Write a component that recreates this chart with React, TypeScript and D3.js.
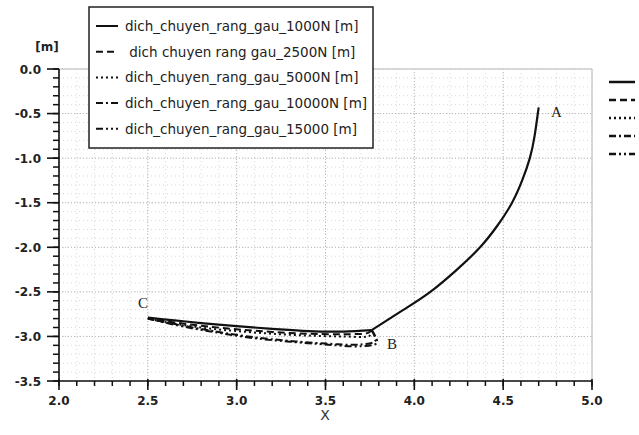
import React from "react";
import * as d3 from "d3";

// ---- data ----
const xTicks = [2.0, 2.5, 3.0, 3.5, 4.0, 4.5, 5.0];
const yTicks = [0.0, -0.5, -1.0, -1.5, -2.0, -2.5, -3.0, -3.5];

// shared path A -> B
const abX = [4.70, 4.695, 4.677, 4.65, 4.607, 4.55, 4.47, 4.37, 4.24, 4.09, 3.94, 3.76];
const abY = [-0.43, -0.5, -0.75, -1.0, -1.25, -1.5, -1.75, -2.0, -2.25, -2.5, -2.7, -2.93];

// path B -> C, per series
const bc1000X = [3.76, 3.6, 3.4, 3.2, 3.0, 2.8, 2.65, 2.5];
const bc1000Y = [-2.93, -2.945, -2.94, -2.915, -2.885, -2.85, -2.82, -2.79];
const bc2500X = [3.76, 3.74, 3.6, 3.4, 3.2, 3.0, 2.8, 2.6, 2.5];
const bc2500Y = [-2.93, -2.96, -2.975, -2.97, -2.95, -2.92, -2.88, -2.83, -2.80];
const bc5000X = [3.76, 3.75, 3.6, 3.4, 3.2, 3.0, 2.8, 2.6, 2.5];
const bc5000Y = [-2.93, -2.99, -3.0, -2.99, -2.97, -2.94, -2.90, -2.84, -2.80];
const bc10000X = [3.76, 3.78, 3.7, 3.5, 3.3, 3.1, 2.9, 2.7, 2.5];
const bc10000Y = [-2.93, -3.05, -3.09, -3.08, -3.05, -3.01, -2.95, -2.88, -2.80];
const bc15000X = [3.76, 3.79, 3.7, 3.5, 3.3, 3.1, 2.9, 2.7, 2.5];
const bc15000Y = [-2.93, -3.07, -3.11, -3.09, -3.06, -3.02, -2.96, -2.89, -2.80];

const seriesNames = [
  "dich_chuyen_rang_gau_1000N [m]",
  " dich chuyen rang gau_2500N [m]",
  "dich_chuyen_rang_gau_5000N [m]",
  "dich_chuyen_rang_gau_10000N [m]",
  "dich_chuyen_rang_gau_15000 [m]",
];
const seriesBCX = [bc1000X, bc2500X, bc5000X, bc10000X, bc15000X];
const seriesBCY = [bc1000Y, bc2500Y, bc5000Y, bc10000Y, bc15000Y];
const dashes = ["", "7,4", "2,3", "7,3,2,3", "7,3,2,3,2,3"];

const pointLabels = ["A", "B", "C"];

export default function App() {
  const left = 59, right = 592, top = 69, bottom = 381;
  const x = d3.scaleLinear().domain([2, 5]).range([left, right]);
  const y = d3.scaleLinear().domain([0, -3.5]).range([top, bottom]);

  const minorX = d3.range(20, 51).map((v) => v / 10);
  const minorY = d3.range(0, 36).map((v) => -v / 10);

  const line = d3
    .line<[number, number]>()
    .x((d) => x(d[0]))
    .y((d) => y(d[1]))
    .curve(d3.curveCatmullRom.alpha(0.5));

  const lineSmooth = d3
    .line<[number, number]>()
    .x((d) => x(d[0]))
    .y((d) => y(d[1]))
    .curve(d3.curveNatural);

  const abPts: [number, number][] = abX.map((v, i) => [v, abY[i]]);

  const tickFont = { fontFamily: "'DejaVu Sans', sans-serif", fontWeight: 700, fontSize: 12 } as const;

  return (
    <svg width={639} height={435} style={{ position: "absolute", left: 0, top: 0, background: "#fff" }}>
      {/* minor grid */}
      {minorX.map((v, i) => (
        <line key={"mgx" + i} x1={x(v)} x2={x(v)} y1={top} y2={bottom} stroke="#d8d8d8" strokeWidth={1} strokeDasharray="1,3" />
      ))}
      {minorY.map((v, i) => (
        <line key={"mgy" + i} x1={left} x2={right} y1={y(v)} y2={y(v)} stroke="#d8d8d8" strokeWidth={1} strokeDasharray="1,3" />
      ))}
      {/* major grid */}
      {xTicks.map((v, i) => (
        <line key={"gx" + i} x1={x(v)} x2={x(v)} y1={top} y2={bottom} stroke="#b8b8b8" strokeWidth={1} strokeDasharray="1,2" />
      ))}
      {yTicks.map((v, i) => (
        <line key={"gy" + i} x1={left} x2={right} y1={y(v)} y2={y(v)} stroke="#b8b8b8" strokeWidth={1} strokeDasharray="1,2" />
      ))}
      {/* frame */}
      <line x1={left} x2={right} y1={top} y2={top} stroke="#cfcfcf" strokeWidth={1.5} />
      <line x1={right} x2={right} y1={top} y2={bottom} stroke="#cfcfcf" strokeWidth={1.5} />

      {/* series: B -> C parts */}
      {seriesNames.map((name, s) => {
        const pts: [number, number][] = seriesBCX[s].map((v, i) => [v, seriesBCY[s][i]] as [number, number]);
        return (
          <path key={"s" + s} d={line(pts) || ""} fill="none" stroke="#111" strokeWidth={s === 0 ? 2.2 : 2}
            strokeDasharray={dashes[s] || undefined} strokeLinejoin="round" />
        );
      })}
      {/* shared A -> B part (all series coincide) */}
      <path d={lineSmooth(abPts) || ""} fill="none" stroke="#111" strokeWidth={2.2} strokeLinejoin="round" />

      {/* axes */}
      <line x1={left} x2={left} y1={top} y2={bottom} stroke="#111" strokeWidth={1.6} />
      <line x1={left} x2={right} y1={bottom} y2={bottom} stroke="#111" strokeWidth={1.6} />
      {minorX.map((v, i) => (
        <line key={"tx" + i} x1={x(v)} x2={x(v)} y1={bottom} y2={bottom + 5} stroke="#111" strokeWidth={1.5} />
      ))}
      {xTicks.map((v, i) => (
        <line key={"Tx" + i} x1={x(v)} x2={x(v)} y1={bottom - 2} y2={bottom + 9} stroke="#111" strokeWidth={1.6} />
      ))}
      {minorY.map((v, i) => (
        <line key={"ty" + i} x1={left - 6} x2={left} y1={y(v)} y2={y(v)} stroke="#111" strokeWidth={1.5} />
      ))}
      {yTicks.map((v, i) => (
        <line key={"Ty" + i} x1={left - 12} x2={left} y1={y(v)} y2={y(v)} stroke="#111" strokeWidth={1.6} />
      ))}
      {xTicks.map((v, i) => (
        <text key={"lx" + i} x={x(v)} y={405} textAnchor="middle" fill="#222" style={tickFont}>
          {v.toFixed(1)}
        </text>
      ))}
      {yTicks.map((v, i) => (
        <text key={"ly" + i} x={41} y={y(v) + 4.5} textAnchor="end" fill="#222" style={tickFont}>
          {v === 0 ? "0.0" : "-" + Math.abs(v).toFixed(1)}
        </text>
      ))}
      <text x={47} y={51} textAnchor="middle" fill="#222" style={tickFont}>[m]</text>
      <text x={325} y={420} textAnchor="middle" fill="#333" style={{ fontFamily: "'DejaVu Sans', sans-serif", fontSize: 14 }}>X</text>

      {/* point labels */}
      <text x={551} y={117} fill="#222" style={{ fontFamily: "'Liberation Serif', serif", fontSize: 15 }}>{pointLabels[0]}</text>
      <text x={387} y={349} fill="#222" style={{ fontFamily: "'Liberation Serif', serif", fontSize: 15 }}>{pointLabels[1]}</text>
      <text x={138} y={308} fill="#222" style={{ fontFamily: "'Liberation Serif', serif", fontSize: 15 }}>{pointLabels[2]}</text>

      {/* legend box */}
      <rect x={89} y={7} width={284} height={141} fill="#fff" stroke="#222" strokeWidth={1.5} />
      {seriesNames.map((name, s) => {
        const cy = 26 + s * 25.7;
        return (
          <g key={"lg" + s}>
            <line x1={96} x2={118} y1={cy} y2={cy} stroke="#111" strokeWidth={2} strokeDasharray={dashes[s] || undefined} />
            <text x={125} y={cy + 5} fill="#222" style={{ fontFamily: "'DejaVu Sans', sans-serif", fontSize: 13.5, whiteSpace: "pre" }}>
              {name}
            </text>
          </g>
        );
      })}

      {/* right-side legend samples */}
      {seriesNames.map((name, s) => {
        const cy = 82 + s * 18;
        return (
          <line key={"rs" + s} x1={609} x2={635} y1={cy} y2={cy} stroke="#111" strokeWidth={2.5}
            strokeDasharray={dashes[s] || undefined} />
        );
      })}
    </svg>
  );
}
